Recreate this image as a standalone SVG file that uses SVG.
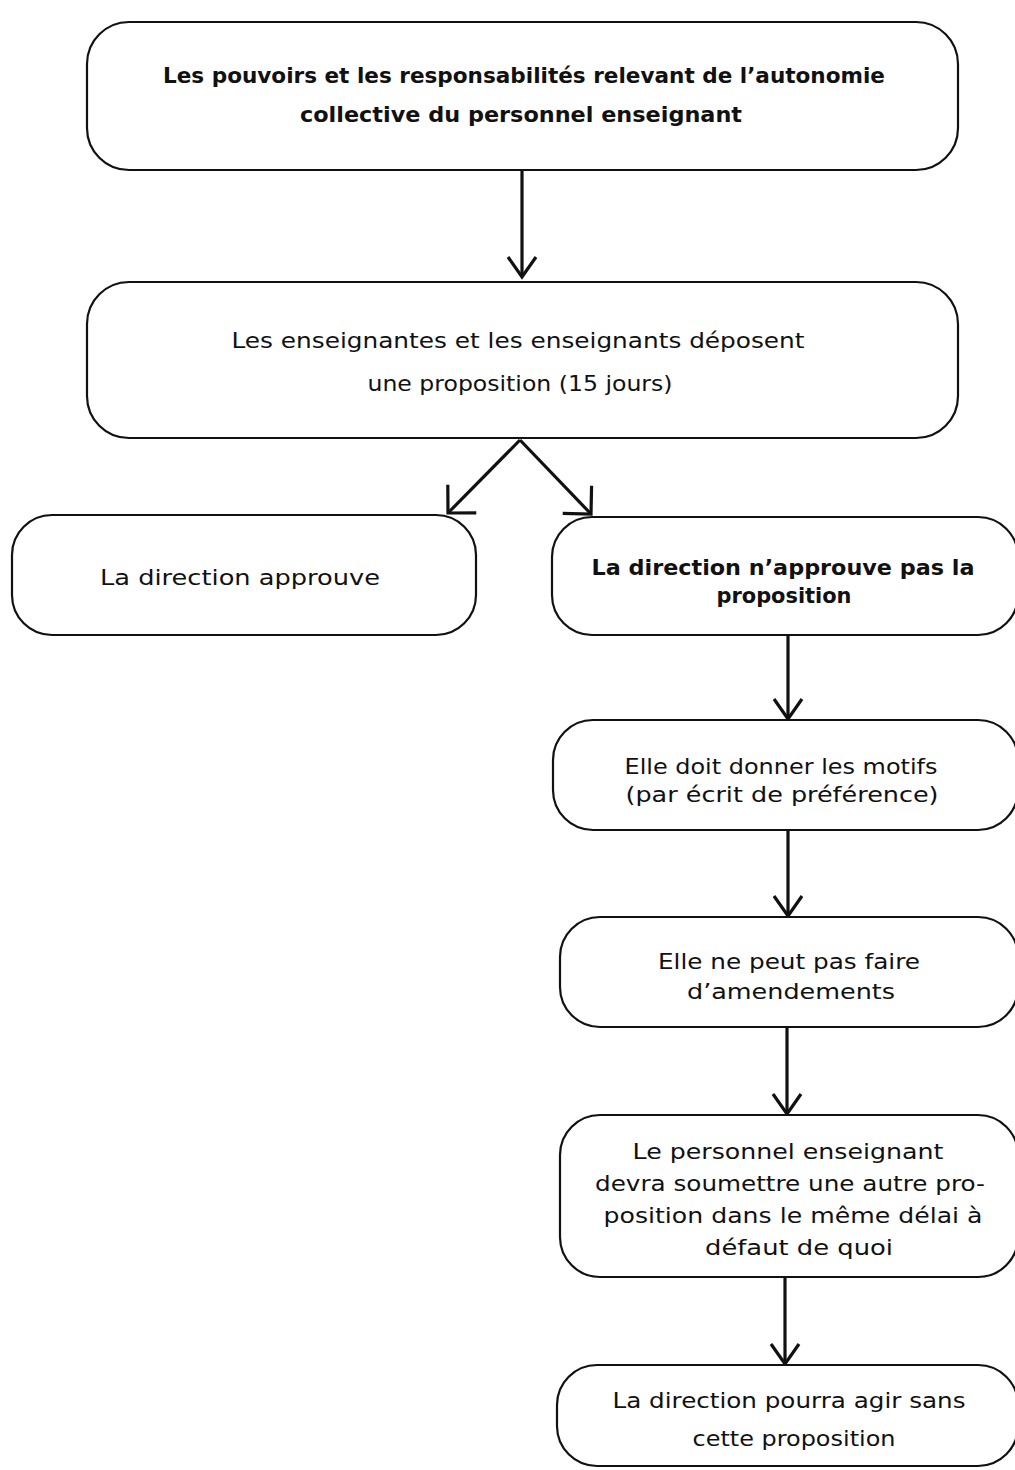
<svg xmlns="http://www.w3.org/2000/svg" width="1015" height="1470" viewBox="0 0 1015 1470">
<defs>
<style>
.box{fill:#fff;stroke:#111;stroke-width:2.2}
.t{font-family:"DejaVu Sans","Liberation Sans",sans-serif;font-size:21px;fill:#111;text-anchor:middle}
.b{font-weight:bold}
.c{stroke:#111;stroke-width:3.2;fill:none}
</style>
<marker id="v" markerUnits="userSpaceOnUse" viewBox="-24 -16 28 32" refX="0" refY="0" markerWidth="28" markerHeight="32" orient="auto">
<path d="M-20,-14 L0,0 L-20,14" fill="none" stroke="#111" stroke-width="3.2" stroke-linejoin="miter"/>
</marker>
<marker id="d" markerUnits="userSpaceOnUse" viewBox="-26 -24 30 48" refX="0" refY="0" markerWidth="30" markerHeight="48" orient="auto">
<path d="M-20,-20 L0,0 L-20,20" fill="none" stroke="#111" stroke-width="3.2"/>
</marker>
</defs>
<rect width="1015" height="1470" fill="#fff"/>
<g id="connectors">
<line class="c" x1="522" y1="170" x2="522" y2="277" marker-end="url(#v)"/>
<line class="c" x1="520" y1="440" x2="448" y2="513" marker-end="url(#d)"/>
<line class="c" x1="520" y1="440" x2="591" y2="514" marker-end="url(#d)"/>
<line class="c" x1="788" y1="635" x2="788" y2="719" marker-end="url(#v)"/>
<line class="c" x1="788" y1="830" x2="788" y2="916" marker-end="url(#v)"/>
<line class="c" x1="787" y1="1027" x2="787" y2="1114" marker-end="url(#v)"/>
<line class="c" x1="785" y1="1277" x2="785" y2="1364" marker-end="url(#v)"/>
</g>
<g id="n1">
<rect class="box" x="87" y="22" width="871" height="148" rx="42" ry="42"/>
<text class="t b" x="524" y="83" textLength="722" lengthAdjust="spacingAndGlyphs">Les pouvoirs et les responsabilités relevant de l’autonomie</text>
<text class="t b" x="521" y="122" textLength="442" lengthAdjust="spacingAndGlyphs">collective du personnel enseignant</text>
</g>
<g id="n2">
<rect class="box" x="87" y="282" width="871" height="156" rx="42" ry="42"/>
<text class="t" x="518" y="348" textLength="573" lengthAdjust="spacingAndGlyphs">Les enseignantes et les enseignants déposent</text>
<text class="t" x="520" y="391" textLength="305" lengthAdjust="spacingAndGlyphs">une proposition (15 jours)</text>
</g>
<g id="n3">
<rect class="box" x="12" y="515" width="464" height="120" rx="40" ry="40"/>
<text class="t" x="240" y="585" textLength="280" lengthAdjust="spacingAndGlyphs">La direction approuve</text>
</g>
<g id="n4">
<rect class="box" x="552" y="517" width="466" height="118" rx="40" ry="40"/>
<text class="t b" x="783" y="575" textLength="383" lengthAdjust="spacingAndGlyphs">La direction n’approuve pas la</text>
<text class="t b" x="784" y="603" textLength="135" lengthAdjust="spacingAndGlyphs">proposition</text>
</g>
<g id="n5">
<rect class="box" x="553" y="720" width="465" height="110" rx="40" ry="40"/>
<text class="t" x="781" y="774" textLength="313" lengthAdjust="spacingAndGlyphs">Elle doit donner les motifs</text>
<text class="t" x="782" y="802" textLength="313" lengthAdjust="spacingAndGlyphs">(par écrit de préférence)</text>
</g>
<g id="n6">
<rect class="box" x="560" y="917" width="458" height="110" rx="40" ry="40"/>
<text class="t" x="789" y="969" textLength="262" lengthAdjust="spacingAndGlyphs">Elle ne peut pas faire</text>
<text class="t" x="791" y="999" textLength="208" lengthAdjust="spacingAndGlyphs">d’amendements</text>
</g>
<g id="n7">
<rect class="box" x="560" y="1115" width="458" height="162" rx="40" ry="40"/>
<text class="t" x="788" y="1159" textLength="311" lengthAdjust="spacingAndGlyphs">Le personnel enseignant</text>
<text class="t" x="790" y="1191" textLength="390" lengthAdjust="spacingAndGlyphs">devra soumettre une autre pro-</text>
<text class="t" x="793" y="1223" textLength="379" lengthAdjust="spacingAndGlyphs">position dans le même délai à</text>
<text class="t" x="799" y="1255" textLength="188" lengthAdjust="spacingAndGlyphs">défaut de quoi</text>
</g>
<g id="n8">
<rect class="box" x="557" y="1365" width="461" height="101" rx="40" ry="40"/>
<text class="t" x="789" y="1408" textLength="353" lengthAdjust="spacingAndGlyphs">La direction pourra agir sans</text>
<text class="t" x="794" y="1446" textLength="203" lengthAdjust="spacingAndGlyphs">cette proposition</text>
</g>
</svg>
